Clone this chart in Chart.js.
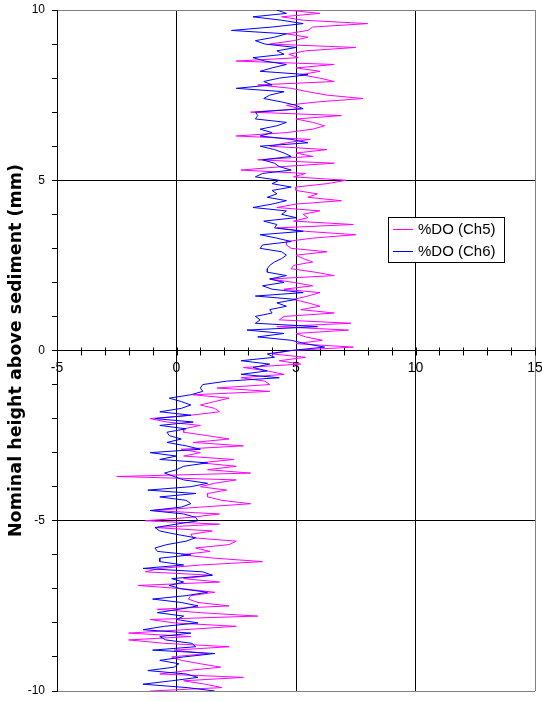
<!DOCTYPE html>
<html><head><meta charset="utf-8">
<script src="https://cdn.jsdelivr.net/npm/chart.js@4.4.1/dist/chart.umd.min.js"></script>
<style>html,body{margin:0;padding:0;background:#fff;}#wrap{width:542px;height:702px;}</style>
</head><body><div id="wrap"><canvas id="c" width="542" height="702"></canvas></div>
<script>
// Nominal height above sediment (mm)
const heights = [
 10.0, 9.9, 9.8, 9.7, 9.6, 9.5, 9.4, 9.3, 9.2, 9.1,
 9.0, 8.9, 8.8, 8.7, 8.6, 8.5, 8.4, 8.3, 8.2, 8.1,
 8.0, 7.9, 7.8, 7.7, 7.6, 7.5, 7.4, 7.3, 7.2, 7.1,
 7.0, 6.9, 6.8, 6.7, 6.6, 6.5, 6.4, 6.3, 6.2, 6.1,
 6.0, 5.9, 5.8, 5.7, 5.6, 5.5, 5.4, 5.3, 5.2, 5.1,
 5.0, 4.9, 4.8, 4.7, 4.6, 4.5, 4.4, 4.3, 4.2, 4.1,
 4.0, 3.9, 3.8, 3.7, 3.6, 3.5, 3.4, 3.3, 3.2, 3.1,
 3.0, 2.9, 2.8, 2.7, 2.6, 2.5, 2.4, 2.3, 2.2, 2.1,
 2.0, 1.9, 1.8, 1.7, 1.6, 1.5, 1.4, 1.3, 1.2, 1.1,
 1.0, 0.9, 0.8, 0.7, 0.6, 0.5, 0.4, 0.3, 0.2, 0.1,
 0.0, -0.1, -0.2, -0.3, -0.4, -0.5, -0.6, -0.7, -0.8, -0.9,
 -1.0, -1.1, -1.2, -1.3, -1.4, -1.5, -1.6, -1.7, -1.8, -1.9,
 -2.0, -2.1, -2.2, -2.3, -2.4, -2.5, -2.6, -2.7, -2.8, -2.9,
 -3.0, -3.1, -3.2, -3.3, -3.4, -3.5, -3.6, -3.7, -3.8, -3.9,
 -4.0, -4.1, -4.2, -4.3, -4.4, -4.5, -4.6, -4.7, -4.8, -4.9,
 -5.0, -5.1, -5.2, -5.3, -5.4, -5.5, -5.6, -5.7, -5.8, -5.9,
 -6.0, -6.1, -6.2, -6.3, -6.4, -6.5, -6.6, -6.7, -6.8, -6.9,
 -7.0, -7.1, -7.2, -7.3, -7.4, -7.5, -7.6, -7.7, -7.8, -7.9,
 -8.0, -8.1, -8.2, -8.3, -8.4, -8.5, -8.6, -8.7, -8.8, -8.9,
 -9.0, -9.1, -9.2, -9.3, -9.4, -9.5, -9.6, -9.7, -9.8, -9.9,
 -10.0
];
// %DO (Ch5)
const ch5 = [
 4.6, 6.0, 4.4, 5.3, 8.0, 5.7, 5.5, 4.6, 5.5, 4.9,
 3.9, 7.5, 5.4, 4.7, 5.1, 2.5, 6.6, 5.0, 6.0, 5.2,
 6.0, 6.6, 3.4, 4.8, 5.5, 6.3, 7.8, 5.9, 4.6, 5.2,
 3.1, 6.9, 5.0, 5.7, 6.2, 5.7, 4.6, 2.5, 5.6, 4.6,
 3.9, 6.3, 5.0, 5.7, 3.4, 6.6, 4.4, 2.7, 5.4, 4.9,
 7.1, 6.3, 5.0, 5.0, 5.9, 5.5, 6.9, 5.0, 4.2, 6.0,
 5.3, 5.5, 4.9, 7.4, 4.2, 5.4, 7.5, 5.7, 4.6, 4.6,
 4.8, 6.3, 5.0, 5.3, 5.7, 4.9, 4.8, 5.8, 6.6, 3.9,
 4.9, 5.7, 4.5, 6.0, 5.5, 4.9, 5.5, 6.0, 5.2, 6.6,
 4.5, 4.3, 7.3, 4.2, 7.2, 5.0, 5.4, 6.1, 5.0, 7.4,
 4.8, 4.0, 5.4, 4.3, 5.2, 2.8, 3.8, 4.5, 2.7, 3.7,
 3.9, 1.7, 3.9, 0.7, 2.2, 1.6, 1.0, 1.6, 1.8, 0.6,
 -1.1, -0.4, 1.0, 0.3, 0.3, 1.3, 2.2, 0.7, 2.8, 0.2,
 1.0, 0.3, 2.4, 1.0, 2.5, 1.3, 3.1, -2.5, 2.5, 1.6,
 1.0, 2.1, 1.3, 1.3, 1.9, 3.1, 1.0, -1.0, 1.8, 0.6,
 -1.3, 1.8, -0.9, 1.5, 0.6, 0.7, 2.5, 2.2, 0.8, 1.4,
 0.2, 1.6, 3.6, 1.0, -0.7, -1.3, 1.5, 0.3, 1.8, -1.6,
 0.3, 1.6, 0.6, 0.5, 0.9, 2.2, -0.8, 1.0, 3.4, -1.1,
 -0.1, 2.5, 0.3, -2.0, 0.6, -2.0, -0.5, 2.2, -0.1, 1.3,
 -0.2, 0.2, 1.0, 1.85, 0.45, -0.7, 2.8, 0.3, 1.2, 1.9,
 -1.1
];
// %DO (Ch6)
const ch6 = [
 4.2, 4.6, 3.2, 4.4, 5.3, 4.0, 2.3, 4.6, 4.1, 3.3,
 3.7, 5.0, 4.2, 4.5, 3.2, 3.7, 4.6, 4.0, 3.5, 5.5,
 4.3, 3.65, 4.0, 2.5, 4.5, 3.9, 3.65, 4.4, 5.0, 5.3,
 3.3, 3.4, 3.3, 4.6, 4.2, 3.5, 4.0, 3.5, 4.8, 5.5,
 3.5, 4.1, 4.5, 4.8, 3.6, 4.1, 4.3, 4.8, 3.6, 3.3,
 4.3, 4.0, 4.8, 4.0, 4.2, 3.8, 4.6, 4.0, 3.2, 4.6,
 4.4, 5.0, 3.65, 4.2, 4.1, 5.3, 3.5, 4.2, 4.8, 3.6,
 3.5, 4.4, 4.6, 4.4, 4.1, 3.9, 3.8, 3.8, 4.6, 3.9,
 4.5, 3.6, 4.0, 5.3, 3.3, 5.0, 4.2, 4.6, 3.9, 4.0,
 3.3, 3.5, 3.3, 5.9, 2.95, 4.5, 3.4, 4.8, 5.4, 6.2,
 4.8, 3.8, 4.1, 2.7, 3.9, 3.2, 3.8, 2.7, 4.3, 2.1,
 1.1, 1.0, 1.1, 0.6, -0.3, 0.2, 0.6, 0.2, -0.7, 0.6,
 -0.9, 0.7, -0.7, 0.4, -0.4, -0.3, 0.2, -0.4, 0.4, 1.0,
 -1.1, 0.0, -0.7, 1.3, 0.3, 0.0, -0.5, -0.1, 0.3, 1.3,
 0.6, -1.2, 0.8, -0.7, 0.4, 0.6, 0.2, -1.1, 0.3, 0.8,
 0.9, 0.0, -0.9, -0.7, 0.0, 0.8, 0.4, -0.4, -0.9, -0.8,
 0.6, -0.7, -0.7, 0.3, -1.4, 1.1, 1.5, -0.2, 0.3, -0.3,
 0.2, 1.3, 0.4, -1.0, 0.2, 0.9, 0.1, -0.8, 0.3, 0.0,
 0.9, -0.5, -1.4, 0.6, -0.7, -0.45, 0.65, 0.8, -1.0, 1.6,
 0.3, -0.7, 0.1, -0.1, -1.2, 0.4, 0.9, -0.2, -1.4, 0.45,
 1.6
];
const seriesNames = ['%DO (Ch5)', '%DO (Ch6)'];
const xTickLabels = [-5, 0, 5, 10, 15];
const yTickLabels = [-10, -5, 0, 5, 10];
const yTitle = 'Nominal height above sediment (mm)';

const FONT = 'Arial, "Liberation Sans", sans-serif';

function toPoints(vals) { return heights.map((h, i) => ({ x: vals[i], y: h })); }

const minorTicks = {
  id: 'minorTicks',
  beforeDatasetsDraw(chart) {
    const ctx = chart.ctx, xs = chart.scales.x, ys = chart.scales.y;
    const y0 = Math.round(ys.getPixelForValue(0)) + 0.5;
    ctx.save();
    ctx.strokeStyle = '#000';
    ctx.lineWidth = 1;
    ctx.beginPath();
    xs.ticks.forEach(t => {
      const px = Math.round(xs.getPixelForValue(t.value)) + 0.5;
      ctx.moveTo(px, y0 - 4);
      ctx.lineTo(px, y0 + 4);
    });
    ctx.stroke();
    ctx.restore();
  }
};

const boxLegend = {
  id: 'boxLegend',
  afterDraw(chart) {
    const ctx = chart.ctx;
    const x = 388.5, y = 217.5, w = 116, h = 45;
    ctx.save();
    ctx.fillStyle = '#fff';
    ctx.fillRect(x, y, w, h);
    ctx.strokeStyle = '#000';
    ctx.lineWidth = 1;
    ctx.strokeRect(x, y, w, h);
    ctx.font = '15px ' + FONT;
    ctx.textBaseline = 'middle';
    ctx.fillStyle = '#000';
    chart.data.datasets.forEach((ds, i) => {
      const ly = 229.5 + i * 22;
      ctx.strokeStyle = ds.borderColor;
      ctx.beginPath();
      ctx.moveTo(393, ly);
      ctx.lineTo(413, ly);
      ctx.stroke();
      ctx.fillText(ds.label, 418, ly + 0.5);
    });
    ctx.restore();
  }
};

function noPad(s) { s.paddingTop = 0; s.paddingBottom = 0; s.paddingLeft = 0; s.paddingRight = 0; }

new Chart(document.getElementById('c'), {
  type: 'scatter',
  data: {
    datasets: [
      { label: seriesNames[0], data: toPoints(ch5), showLine: true, borderColor: '#FF00FF', backgroundColor: '#FF00FF', borderWidth: 1, pointRadius: 0, pointHoverRadius: 0, pointBorderWidth: 0, tension: 0, order: 1 },
      { label: seriesNames[1], data: toPoints(ch6), showLine: true, borderColor: '#0000FF', backgroundColor: '#0000FF', borderWidth: 1, pointRadius: 0, pointHoverRadius: 0, pointBorderWidth: 0, tension: 0, order: 0 }
    ]
  },
  options: {
    responsive: false,
    animation: false,
    devicePixelRatio: 1,
    layout: { autoPadding: false, padding: { left: 0, right: 7, top: 10, bottom: 11 } },
    plugins: { legend: { display: false }, tooltip: { enabled: false } },
    scales: {
      x: {
        type: 'linear', min: -5, max: 15,
        position: { y: 0 },
        ticks: {
          stepSize: 1, autoSkip: false, maxRotation: 0,
          callback: v => xTickLabels.includes(v) ? String(v) : '',
          font: { family: FONT, size: 14 }, color: '#000', padding: 9
        },
        grid: {
          drawTicks: false,
          lineWidth: 1,
          color: c => (c.tick && c.tick.value === 15) ? '#808080' : (c.tick && xTickLabels.includes(c.tick.value) ? '#000' : 'rgba(0,0,0,0)')
        },
        border: { color: '#000', width: 1 },
        afterFit: noPad
      },
      y: {
        type: 'linear', min: -10, max: 10,
        ticks: {
          stepSize: 1, autoSkip: false,
          callback: v => yTickLabels.includes(v) ? String(v) : '',
          font: { family: FONT, size: 12 }, color: '#000', padding: 7
        },
        grid: {
          tickLength: 5,
          tickColor: '#000',
          lineWidth: 1,
          color: c => (c.tick && Math.abs(c.tick.value) === 10) ? '#808080' : (c.tick && yTickLabels.includes(c.tick.value) ? '#000' : 'rgba(0,0,0,0)')
        },
        border: { color: '#000', width: 1 },
        title: {
          display: true, text: yTitle, color: '#000',
          font: { family: '"DejaVu Sans", ' + FONT, size: 17.5, weight: 'bold' },
          padding: { top: 6, bottom: 0 }
        },
        afterFit: s => { s.width = 57; noPad(s); }
      }
    }
  },
  plugins: [minorTicks, boxLegend]
});
</script></body></html>
